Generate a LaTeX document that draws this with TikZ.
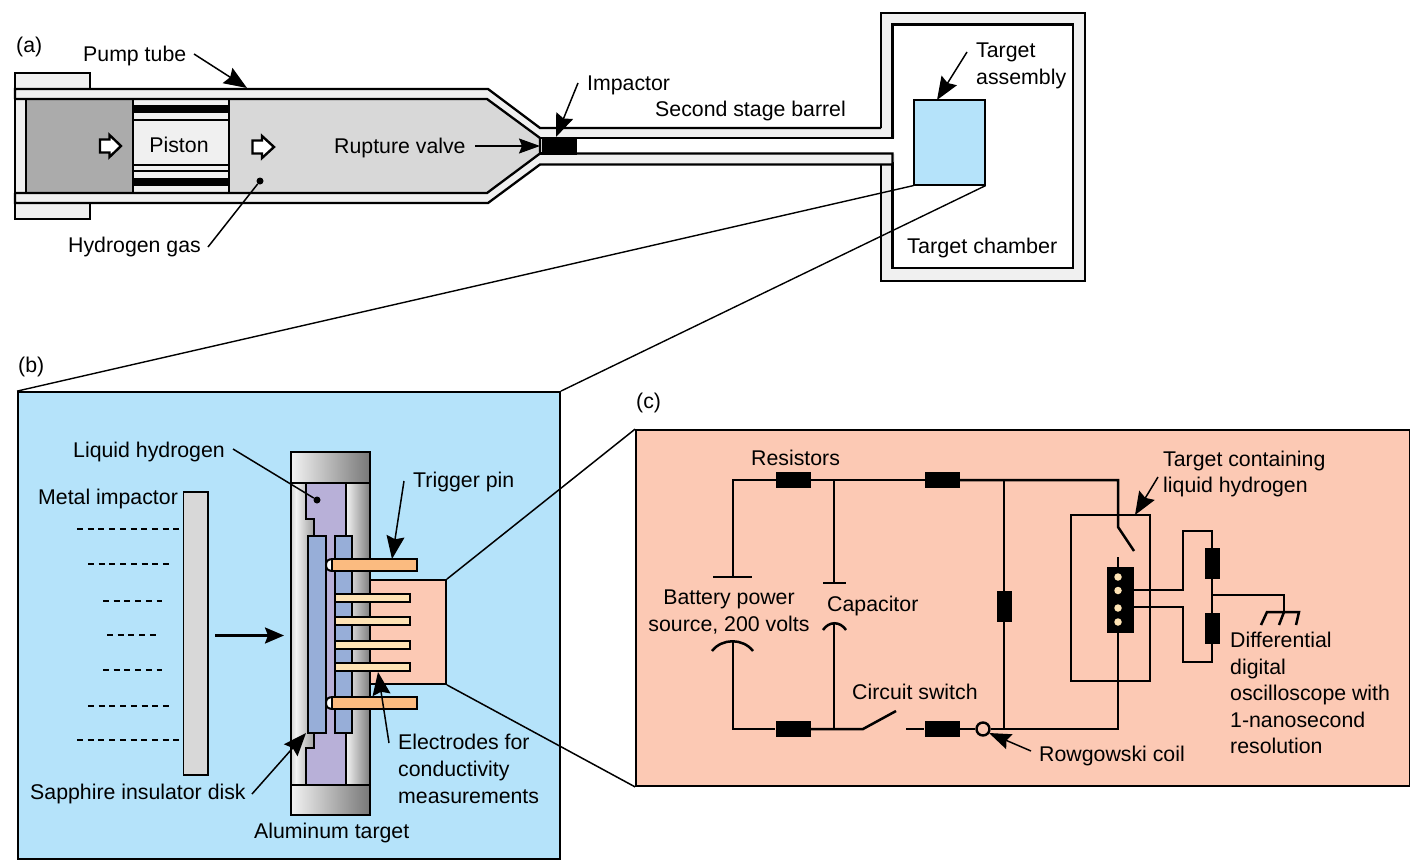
\documentclass[tikz,border=0pt]{standalone}
\usepackage{fontspec}
\setmainfont{Liberation Sans}
\usetikzlibrary{arrows.meta,calc}
\definecolor{bluebg}{HTML}{B5E3FA}
\definecolor{pinkbg}{HTML}{FCC9B4}
\definecolor{wallgray}{HTML}{F0F0F0}
\definecolor{gasdark}{HTML}{ABABAB}
\definecolor{gaslight}{HTML}{D8D8D8}
\definecolor{purplefill}{HTML}{B8B0D8}
\definecolor{sapph}{HTML}{97AED8}
\definecolor{pinorange}{HTML}{FBBB80}
\definecolor{pincream}{HTML}{FEE3B5}
\definecolor{gA}{HTML}{F2F2F2}
\definecolor{gB}{HTML}{A0A0A0}
\definecolor{gC}{HTML}{D4D4D4}
\definecolor{gD}{HTML}{808080}
\definecolor{gE}{HTML}{787878}
\tikzset{
  lab/.style={anchor=west,inner sep=0pt,font=\fontsize{21.3}{26.3}\selectfont,align=left},
  labc/.style={lab,anchor=center,align=center},
  wall/.style={draw=black,line width=2.3pt,fill=wallgray,line join=miter},
  tubeline/.style={draw=black,line width=2.3pt,line join=miter},
  wire/.style={draw=black,line width=2.5pt},
  leader/.style={draw=black,line width=1.5pt},
  bigarrow/.style={leader,-{Stealth[length=23pt,width=18pt,inset=3pt]}},
  resh/.style={fill=black,draw=none,minimum width=35pt,minimum height=16pt,inner sep=0pt},
  resv/.style={fill=black,draw=none,minimum width=15pt,minimum height=31pt,inner sep=0pt},
  cdot/.style={circle,fill=pincream,draw=none,minimum size=7.5pt,inner sep=0pt},
  ddot/.style={circle,fill=black,draw=none,minimum size=7pt,inner sep=0pt},
  pinbar/.style={draw=black,line width=2pt,fill=pinorange},
  elec/.style={draw=black,line width=1.8pt,fill=pincream},
  edge/.style={draw=black,line width=2pt},
  wd/.style={draw=black,line width=1.5pt,dash pattern=on 6pt off 4.7pt},
  openarrow/.style={draw=black,line width=2.4pt,fill=white,line join=miter}
}
\newcommand{\hollowarrow}[4]{\draw[openarrow] (#1,#2-6.5) -- (#3,#2-6.5) -- (#3,#2-11) -- (#4,#2) -- (#3,#2+11) -- (#3,#2+6.5) -- (#1,#2+6.5) -- cycle;}
\begin{document}
\begin{tikzpicture}[x=1pt,y=-1pt]
\useasboundingbox (0,0) rectangle (1410,859);
\fill[white] (0,0) rectangle (1410,859);

% ---- (a) target chamber
\draw[wall] (881,13) rectangle (1085,281);
\draw[draw=black,line width=2.3pt,fill=white] (892.5,24.5) rectangle (1073,268);
\fill[wallgray] (878,130) rectangle (894.5,162);

% flanges
\draw[wall] (15,73) rectangle (90,89);
\draw[wall] (15,203) rectangle (90,219);

% tube walls
\fill[wallgray] (15,89) -- (488,89) -- (540,128) -- (892.5,128) -- (892.5,164.5) -- (540,164.5) -- (488,203) -- (15,203) -- cycle;
\fill[white] (545,138) rectangle (895,153.5);
\draw[tubeline] (15,99) -- (15,89) -- (488,89) -- (540,128) -- (881,128);
\draw[tubeline] (15,193) -- (15,203) -- (488,203) -- (540,164.5) -- (892.5,164.5) -- (892.5,153.5) -- (577,153.5);
\draw[tubeline] (892.5,128) -- (892.5,138) -- (577,138);
% inside of the pump tube
\fill[wallgray] (15,99) rectangle (26,193);
\draw[draw=black,line width=2pt] (15,99) -- (15,193);
\fill[gasdark] (26,99) rectangle (133,193);
\fill[wallgray] (133,99) rectangle (229,193);
\fill[gaslight] (229,99) -- (487,99) -- (540,138) -- (540,153.5) -- (487,193) -- (229,193) -- cycle;
\fill[black] (133,105) rectangle (229,113);
\fill[black] (133,178) rectangle (229,186);
\draw[draw=black,line width=1.6pt] (133,120) -- (229,120) (133,165) -- (229,165) (133,171) -- (229,171);
\draw[draw=black,line width=1.6pt] (26,99) -- (26,193) (133,99) -- (133,193) (229,99) -- (229,193);
\draw[tubeline] (15,99) -- (487,99) -- (540,138) -- (540,153.5) -- (487,193) -- (15,193);
\node[fill=black,minimum width=35pt,minimum height=16pt,inner sep=0pt] (imp) at (559.5,146) {};
\draw[tubeline] (540,138) -- (577,138) (540,153.5) -- (577,153.5);

\hollowarrow{100}{146}{109.5}{121}
\hollowarrow{252.5}{147}{262}{274}
\node[labc] (piston) at (179,145) {Piston};

% target block
\node[fill=bluebg,draw=black,line width=1.2pt,minimum width=71pt,minimum height=85pt,inner sep=0pt] (tgt) at (949.5,142.5) {};
\coordinate (tSW) at (tgt.south west);
\coordinate (tSE) at (tgt.south east);

% ---- panels
\node[fill=bluebg,draw=black,line width=1.8pt,minimum width=542pt,minimum height=467pt,inner sep=0pt] (pb) at (289,625.5) {};
\node[fill=pinkbg,draw=black,line width=1.8pt,minimum width=774pt,minimum height=356pt,inner sep=0pt] (pc) at (1023,608) {};
\draw[draw=black,line width=1.4pt] (tSW) -- (pb.north west);
\draw[draw=black,line width=1.4pt] (tSE) -- (pb.north east);

% pink inset in (b)
\node[fill=pinkbg,draw=black,line width=1.8pt,minimum width=100pt,minimum height=104pt,inner sep=0pt] (inset) at (396,632) {};
\draw[draw=black,line width=1.5pt] (inset.north east) -- (pc.north west);
\draw[draw=black,line width=1.5pt] (inset.south east) -- (pc.south west);

% aluminium target
\shade[left color=gC,right color=gA] (291,483) rectangle (296,785);
\shade[left color=gA,right color=gB] (296,483) rectangle (314,785);
\shade[left color=gA,right color=gD] (346,483) rectangle (369.5,785);
\fill[purplefill] (306,483) -- (346,483) -- (346,785) -- (306,785) -- (306,748) -- (314,748) -- (314,519) -- (306,519) -- cycle;
\draw[edge] (291,483) -- (291,785) (369.5,483) -- (369.5,785);
\draw[edge] (306,483) -- (306,519) -- (314,519) -- (314,536);
\draw[edge] (314,733) -- (314,748) -- (306,748) -- (306,785);
\draw[edge] (345.5,483) -- (345.5,536) (345.5,733) -- (345.5,785);
\shade[left color=gA,right color=gE,draw=black,line width=2pt] (291,452) rectangle (370,483);
\shade[left color=gA,right color=gE,draw=black,line width=2pt] (291,785) rectangle (370,815);
\draw[edge,fill=sapph] (307.5,536) rectangle (325.5,733);
\draw[edge,fill=sapph] (334.5,536) rectangle (352,733);

% pins
\draw[edge,fill=white] (333,559) .. controls (328,559) and (326,561) .. (326,565) .. controls (326,569) and (328,571) .. (333,571);
\draw[edge,fill=white] (333,697) .. controls (328,697) and (326,699) .. (326,703) .. controls (326,707) and (328,709) .. (333,709);
\node[pinbar,minimum width=85pt,minimum height=12pt,inner sep=0pt] (pin1) at (374.5,565) {};
\node[pinbar,minimum width=85pt,minimum height=12pt,inner sep=0pt] (pin2) at (374.5,703) {};
\node[elec,minimum width=75pt,minimum height=8pt,inner sep=0pt] (e1) at (372.5,598) {};
\node[elec,minimum width=75pt,minimum height=8pt,inner sep=0pt] (e2) at (372.5,621) {};
\node[elec,minimum width=75pt,minimum height=8pt,inner sep=0pt] (e3) at (372.5,645) {};
\node[elec,minimum width=75pt,minimum height=8pt,inner sep=0pt] (e4) at (372.5,667) {};

% metal impactor
\node[fill=gaslight,draw=black,line width=1.8pt,minimum width=24.5pt,minimum height=283pt,inner sep=0pt] (mi) at (195.7,633.5) {};
\draw[wd] (77,529) -- (179,529);
\draw[wd] (88,564) -- (170,564);
\draw[wd] (103,601) -- (162,601);
\draw[wd] (107,635) -- (156,635);
\draw[wd] (103,670) -- (162,670);
\draw[wd] (88,706) -- (170,706);
\draw[wd] (77,740) -- (179,740);
\coordinate (flowEnd) at (284,635.5);
\draw[draw=black,line width=2.5pt,-{Stealth[length=19pt,width=16pt,inset=3pt]}] (215,635.5) -- (flowEnd);

% ---- labels (a)
\node[lab] (la) at (16,47) {(a)};
\node[lab] (pump) at (83,56) {Pump tube};
\node[lab] (rupt) at (334,148) {Rupture valve};
\node[lab] (impl) at (587,85) {Impactor};
\node[lab] (ssb) at (655,111) {Second stage barrel};
\node[lab] (ta) at (976,66) {Target\\assembly};
\node[lab,xscale=1.015,anchor=west] (tc) at (907,248) {Target chamber};
\node[lab] (hg) at (68,247) {Hydrogen gas};
\coordinate (pumpTip) at (247,88);
\draw[bigarrow] (194,54) -- (pumpTip);
\coordinate (ruptTip) at (540,146);
\draw[leader,-{Stealth[length=21pt,width=15pt,inset=3pt]}] (475,146) -- (ruptTip);
\coordinate (impTip) at (556,137);
\draw[bigarrow] (578,83) -- (impTip);
\coordinate (taTip) at (937,100);
\draw[bigarrow] (967,52) -- (taTip);
\node[ddot] (hgdot) at (260,181) {};
\draw[leader] (208,247) -- (hgdot);

% ---- labels (b)
\node[lab] (lb) at (18,367) {(b)};
\node[lab] (lc) at (636,403) {(c)};
\node[lab] (lh) at (73,452) {Liquid hydrogen};
\node[lab] (mil) at (38,499) {Metal impactor};
\node[lab] (tp) at (413,482) {Trigger pin};
\node[lab,align=left,font=\fontsize{21.3}{27}\selectfont] (el) at (398,769) {Electrodes for\\conductivity\\measurements};
\node[lab] (sid) at (30,794) {Sapphire insulator disk};
\node[lab] (alt) at (254,833) {Aluminum target};
\node[ddot] (lhdot) at (317,500) {};
\draw[leader] (233,449) -- (lhdot);
\coordinate (tpTip) at (392,559);
\draw[bigarrow] (404,481) -- (tpTip);
\coordinate (elTip) at (378,672);
\draw[bigarrow] (389,743) -- (elTip);
\coordinate (sidTip) at (306,733);
\draw[bigarrow] (252,794) -- (sidTip);

% ---- circuit (c)
\node[resh] (r1) at (793.5,480) {};
\node[resh] (r2) at (942.5,480) {};
\node[resh] (r3) at (793,729) {};
\node[resh] (r4) at (942,729) {};
\node[resv] (r5) at (1004,606.5) {};
\node[resv] (r6) at (1212,563.5) {};
\node[resv] (r7) at (1212,628.5) {};
\node[circle,draw=black,line width=2.4pt,fill=pinkbg,minimum size=13pt,inner sep=0pt] (coil) at (983,729) {};
\node[fill=black,minimum width=27pt,minimum height=66pt,inner sep=0pt] (tbox) at (1120.5,600) {};
\foreach \i/\y in {1/577,2/590.5,3/608,4/622}{\node[cdot] (d\i) at (1118,\y) {};}
\draw[wire] (1071,515) rectangle (1150,681);
\coordinate (ja) at (1004,480);
\coordinate (jb) at (834,480);
\coordinate (jc) at (834,729);
\coordinate (jd) at (1004,729);
% top wire
\draw[wire] (733,577) -- (733,480) -- (r1.west);
\draw[wire] (r1.east) -- (r2.west);
\draw[wire,line join=miter] (r2.east) -- (1118,480) -- (1118,527) -- (1134,551);
\draw[wire] (713,577) -- (752,577);
\draw[wire] (jb) -- (834,583);
\draw[wire] (823,583) -- (846,583);
\draw[wire] (ja) -- (r5.north);
\draw[wire] (r5.south) -- (jd);
% bottom wire
\draw[wire,line join=miter] (733,641) -- (733,729) -- (r3.west);
\draw[wire] (712,651) .. controls (722,638) and (743,638) .. (753,651);
\draw[wire] (r3.east) -- (jc) -- (863,729) -- (896,711);
\draw[wire] (jc) -- (834,623);
\draw[wire] (823,630) .. controls (829,621) and (840,621) .. (846,630);
\draw[wire] (906,729) -- (r4.west);
\draw[wire] (r4.east) -- (coil.west);
\draw[wire] (coil.east) -- (jd) -- (1118,729) -- (1118,633);
\draw[wire] (1118,557) -- (1118,567);
% probe wiring
\draw[wire,line join=miter] (1134,590) -- (1183,590) -- (1183,531) -- (1212,531) -- (r6.north);
\draw[wire,line join=miter] (1134,607) -- (1183,607) -- (1183,662) -- (1212,662) -- (r7.south);
\draw[wire] (r6.south) -- (r7.north);
\draw[wire,line join=miter] (1212,595) -- (1284,595) -- (1284,612);
\draw[wire,line join=miter] (1261,625) -- (1267,612) -- (1299,612) -- (1296,625);
\draw[wire] (1284,612) -- (1279,625);

\node[lab] (lres) at (751,458) {Resistors};
\node[lab] (ltc) at (1163,474) {Target containing\\liquid hydrogen};
\node[labc] (lbat) at (729,612) {Battery power\\source, 200 volts};
\node[lab] (lcap) at (827,606) {Capacitor};
\node[lab] (lsw) at (852,692) {Circuit switch};
\node[lab] (lrc) at (1039,756) {Rowgowski coil};
\node[lab,font=\fontsize{21.3}{26.5}\selectfont] (ldo) at (1230,693) {Differential\\digital\\oscilloscope with\\1-nanosecond\\resolution};
\coordinate (ltcTip) at (1135,515);
\draw[bigarrow] (1158,477) -- (ltcTip);
\coordinate (coilTip) at (989,733);
\draw[leader,-{Stealth[length=22pt,width=16pt,inset=3pt]}] (1031,751) -- (coilTip);
\end{tikzpicture}
\end{document}
